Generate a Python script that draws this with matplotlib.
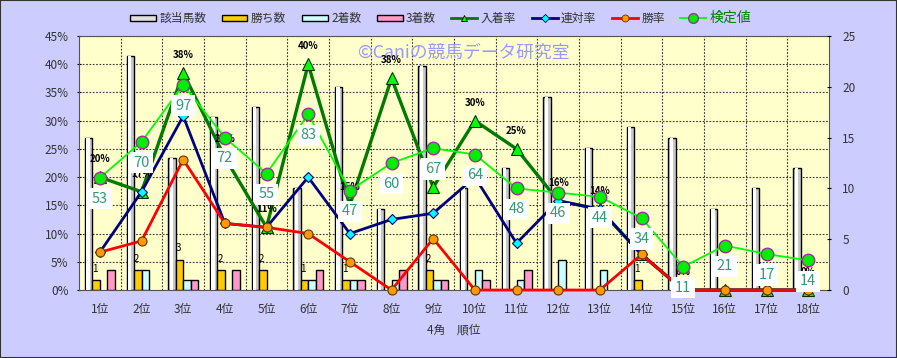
"""
4角順位別 成績チャート
"""

import numpy as np
import matplotlib
matplotlib.use("Agg")
import matplotlib.pyplot as plt
from matplotlib.patches import Rectangle
from matplotlib.lines import Line2D

plt.rcParams['font.family'] = ['Noto Sans CJK JP', 'DejaVu Sans']

# Data
positions = ['1位', '2位', '3位', '4位', '5位', '6位', '7位', '8位', '9位',
             '10位', '11位', '12位', '13位', '14位', '15位', '16位', '17位', '18位']
horses = [15, 23, 13, 17, 18, 10, 20, 8, 22, 10, 12, 19, 14, 16, 15, 8, 10, 12]
wins = [1, 2, 3, 2, 2, 1, 1, 0, 2, 0, 0, 0, 0, 1, 0, 0, 0, 0]
seconds = [0, 2, 1, 0, 0, 1, 1, 1, 1, 2, 1, 3, 2, 0, 0, 0, 0, 0]
thirds = [2, 0, 1, 2, 0, 2, 1, 2, 1, 1, 2, 0, 0, 0, 0, 0, 0, 0]

place_rate = [20.0, 17.4, 38.5, 23.5, 11.1, 40.0, 15.0, 37.5, 18.2,
              30.0, 25.0, 15.8, 14.3, 6.3, 0.0, 0.0, 0.0, 0.0]
quinella_rate = [6.7, 17.4, 30.8, 11.8, 11.1, 20.0, 10.0, 12.5, 13.6,
                 20.0, 8.3, 15.8, 14.3, 6.3, 0.0, 0.0, 0.0, 0.0]
win_rate = [6.7, 8.7, 23.1, 11.8, 11.1, 10.0, 5.0, 0.0, 9.1,
            0.0, 0.0, 0.0, 0.0, 6.3, 0.0, 0.0, 0.0, 0.0]
kentei = [53, 70, 97, 72, 55, 83, 47, 60, 67, 64, 48, 46, 44, 34, 11, 21, 17, 14]

# Colors
BG_FIG = '#CCCCFF'
BG_AX = '#FFFFCC'
C_WIN = '#FFCC00'
C_2ND = '#CCFFFF'
C_3RD = '#FF99CC'
C_PLACE = '#007A00'
C_QUIN = '#000080'
C_WRATE = '#FF0000'
C_KENTEI = '#00FF00'
C_LABEL = '#339977'

fig = plt.figure(figsize=(8.97, 3.58), dpi=100, facecolor=BG_FIG)
fig.patches.append(Rectangle((0, 0), 1, 1, transform=fig.transFigure,
                             fill=False, ec='#333333', lw=1.5))

ax = fig.add_axes([0.0881, 0.1899, 0.8361, 0.7095])
ax.set_facecolor(BG_AX)
x = np.arange(len(positions))
ax.set_xlim(-0.5, len(positions) - 0.5)
ax.set_ylim(0, 45)
ax.set_yticks(np.arange(0, 46, 5))
ax.set_yticklabels([f'{v}%' for v in range(0, 46, 5)], fontsize=8.5, color='#333333')
ax.set_xticks(x)
ax.set_xticklabels(positions, fontsize=8.5, color='#333333')
ax.tick_params(axis='x', length=0, pad=9)
ax.tick_params(axis='y', length=3, direction='inout', pad=6)
ax.set_xticks(np.arange(0.5, len(positions) - 0.5), minor=True)
ax.tick_params(axis='x', which='minor', length=0)
ax.grid(True, which='minor', axis='x', color='#333333', ls=(0, (1.5, 1.5)), lw=0.8)
ax.grid(True, which='major', axis='y', color='#333333', ls=(0, (1.5, 1.5)), lw=0.8)
ax.set_axisbelow(True)
ax.set_xlabel('4角　順位', fontsize=8.5, color='#333333', labelpad=6)
for s in ax.spines.values():
    s.set_color('#555555')
ax.text(0.513, 0.935, '©Caniの競馬データ研究室', transform=ax.transAxes,
        ha='center', va='center', fontsize=12.8, color='#9999FF', zorder=3)

# Bars on the count axis (zero-height bars get no outline)
def edges(vals):
    return ['black' if v > 0 else 'none' for v in vals]

axb = ax.twinx()
axb.set_ylim(0, 25)
axb.set_yticks(np.arange(0, 26, 5))
axb.tick_params(axis='y', labelsize=8.5, labelcolor='#333333', length=3,
                direction='inout', pad=8)
bw = 0.18
axb.bar(x - 0.27, horses, bw, color='#C8C8C8', edgecolor='black', lw=1, zorder=2)
axb.bar(x - 0.285, horses, bw * 0.45, color='white', lw=0, zorder=2.1)
axb.bar(x - 0.09, wins, bw, color=C_WIN, edgecolor=edges(wins), lw=1, zorder=2)
axb.bar(x + 0.09, seconds, bw, color=C_2ND, edgecolor=edges(seconds), lw=1, zorder=2)
axb.bar(x + 0.27, thirds, bw, color=C_3RD, edgecolor=edges(thirds), lw=1, zorder=2)
for xi, w in zip(x, wins):
    if w > 0:
        axb.annotate(str(w), (xi - 0.12, w), xytext=(0, 8), textcoords='offset points',
                     ha='center', va='center', fontsize=7, zorder=4)
for s in axb.spines.values():
    s.set_visible(False)

# Rate lines
axl = ax.twinx()
axl.set_ylim(0, 45)
axl.set_yticks([])
axl.plot(x, place_rate, color=C_PLACE, lw=2.4, marker='^', ms=8,
         mfc='#00FF00', mec='#003300', mew=0.8, zorder=3, clip_on=False)
axl.plot(x, quinella_rate, color=C_QUIN, lw=2, marker='D', ms=5,
         mfc='#00FFFF', mec=C_QUIN, mew=0.8, zorder=3, clip_on=False)
axl.plot(x, win_rate, color=C_WRATE, lw=2, marker='o', ms=6.5,
         mfc='#FF9900', mec='#663300', mew=0.8, zorder=3, clip_on=False)
for xi, v in zip(x, place_rate):
    axl.annotate(f'{round(v)}%', (xi, v), xytext=(0, 13), textcoords='offset points',
                 ha='center', va='center', fontsize=7, fontweight='bold', zorder=4)
for s in axl.spines.values():
    s.set_visible(False)

# 検定値 on its own hidden scale
axk = ax.twinx()
axk.set_ylim(0, 120)
axk.set_yticks([])
axk.plot(x, kentei, color=C_KENTEI, lw=1.3, marker='o', ms=9,
         mfc='#00EE00', mec='#993399', mew=1, zorder=3)
for xi, v in zip(x, kentei):
    axk.annotate(str(v), (xi, v), xytext=(0, -15), textcoords='offset points',
                 ha='center', va='center', fontsize=10.5, color=C_LABEL, zorder=4,
                 bbox=dict(boxstyle='square,pad=0.25', fc='white', ec='none'))
for s in axk.spines.values():
    s.set_visible(False)

# Legend
handles = [
    Rectangle((0, 0), 1, 1, fc='#E0E0E0', ec='black', lw=1),
    Rectangle((0, 0), 1, 1, fc=C_WIN, ec='black', lw=1),
    Rectangle((0, 0), 1, 1, fc=C_2ND, ec='black', lw=1),
    Rectangle((0, 0), 1, 1, fc=C_3RD, ec='black', lw=1),
    Line2D([], [], color=C_PLACE, lw=2, marker='^', ms=5, mfc='#00FF00', mec='black', mew=0.6),
    Line2D([], [], color=C_QUIN, lw=2, marker='D', ms=4, mfc='#00FFFF', mec=C_QUIN, mew=0.6),
    Line2D([], [], color=C_WRATE, lw=2, marker='o', ms=5, mfc='#FF9900', mec='#663300', mew=0.6),
    Line2D([], [], color=C_KENTEI, lw=1.3, marker='o', ms=7, mfc='#00EE00', mec='#993399', mew=1),
]
labels = ['該当馬数', '勝ち数', '2着数', '3着数', '入着率', '連対率', '勝率', '検定値']
leg = fig.legend(handles, labels, loc='center', bbox_to_anchor=(0.491, 0.95), ncol=8,
                 frameon=False, fontsize=8.5, handlelength=2.2, handleheight=0.45,
                 handletextpad=0.3, columnspacing=1.3)
for t in leg.get_texts():
    t.set_color('#333333')
leg.get_texts()[-1].set_color('#008000')
leg.get_texts()[-1].set_fontsize(10)

fig.savefig('out.png', dpi=100, facecolor=BG_FIG)
